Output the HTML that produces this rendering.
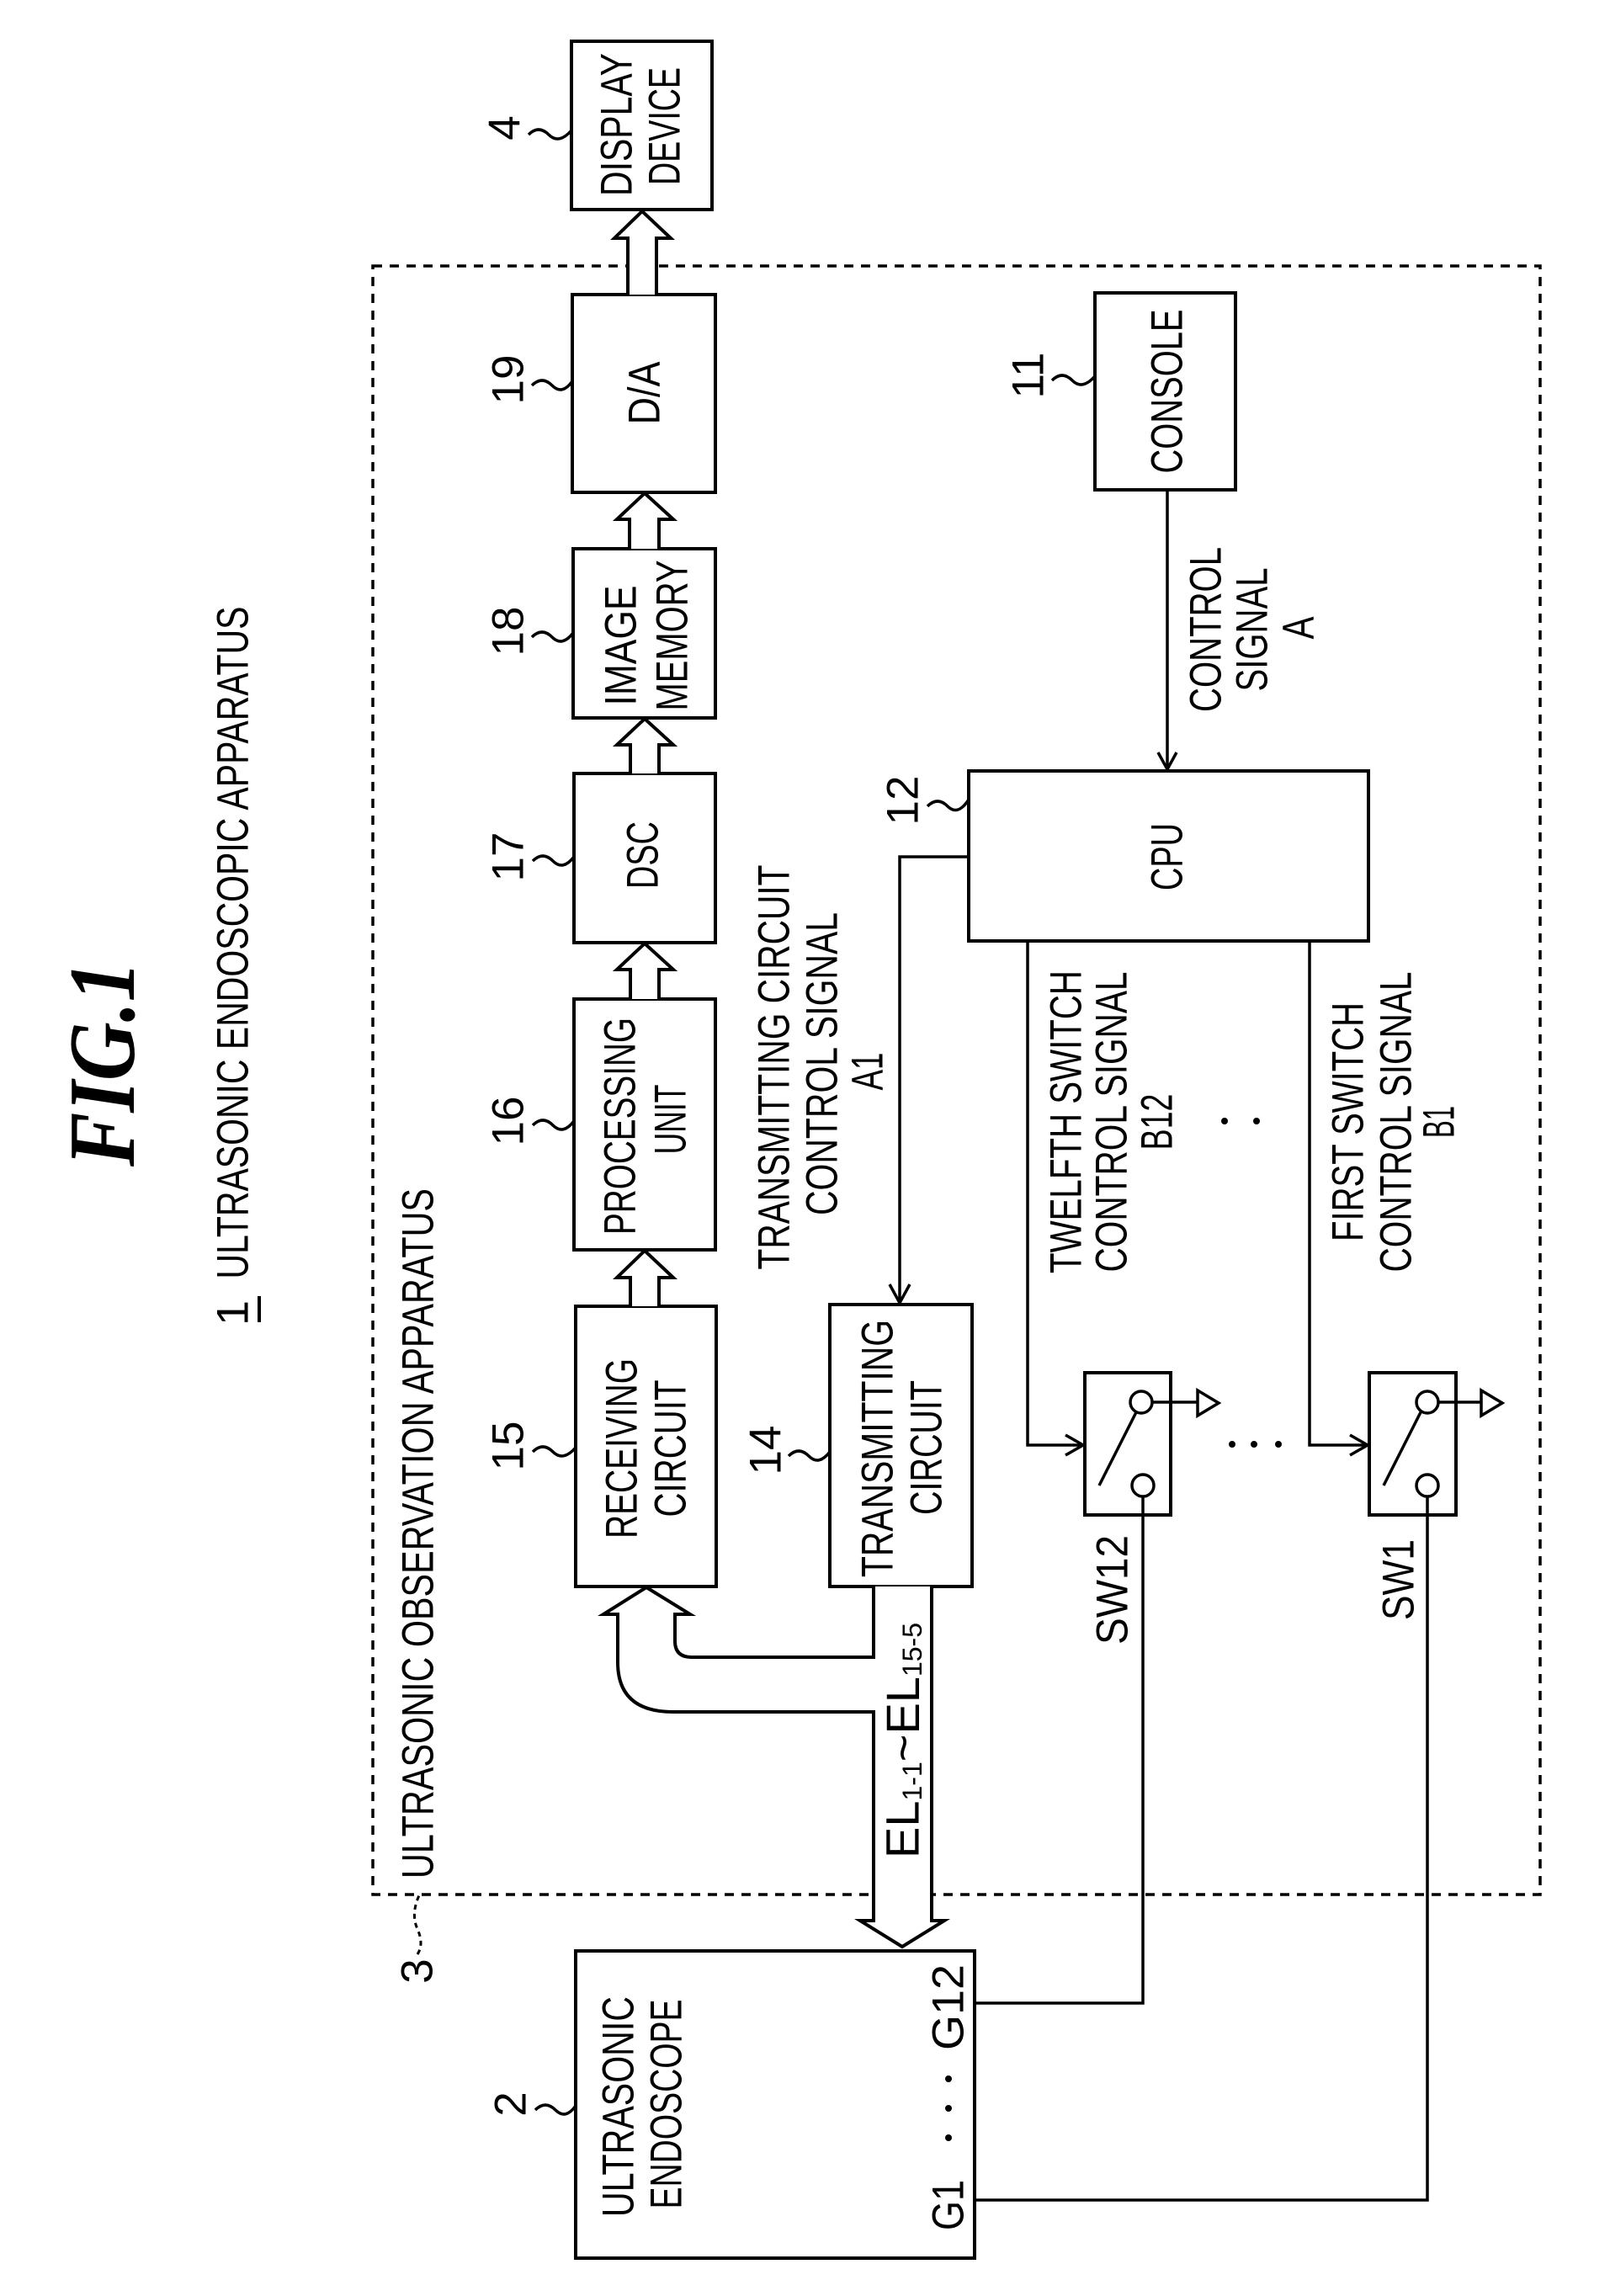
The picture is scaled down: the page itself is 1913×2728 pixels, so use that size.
<!DOCTYPE html>
<html><head><meta charset="utf-8"><style>
html,body{margin:0;padding:0;background:#fff;}
svg{display:block;}
text{font-family:"Liberation Sans",sans-serif;fill:#000;}
</style></head><body>
<svg xmlns="http://www.w3.org/2000/svg" width="1913" height="2728" viewBox="0 0 1913 2728">
<rect width="1913" height="2728" fill="#fff"/>
<g fill="none" stroke="#000" stroke-width="4">
<rect x="443" y="316" width="1387" height="1935" stroke-dasharray="11 9" stroke-width="3.5"/>
<rect x="679" y="49" width="167" height="200" fill="#fff"/>
<rect x="680" y="350" width="170" height="235" fill="#fff"/>
<rect x="681" y="652" width="169" height="201" fill="#fff"/>
<rect x="682" y="919" width="168" height="201" fill="#fff"/>
<rect x="682" y="1187" width="168" height="298" fill="#fff"/>
<rect x="684" y="1552" width="167" height="333" fill="#fff"/>
<rect x="986" y="1550" width="169" height="335" fill="#fff"/>
<rect x="1301" y="348" width="167" height="234" fill="#fff"/>
<rect x="1151" y="916" width="475" height="202" fill="#fff"/>
<rect x="1289" y="1631" width="102" height="169" fill="#fff"/>
<rect x="1627" y="1631" width="103" height="169" fill="#fff"/>
<rect x="684" y="2318" width="474" height="365" fill="#fff"/>
<path d="M746 350 V283 H730 L763 251 L797 283 H780 V350" fill="#fff"/>
<path d="M748 652 V617 H733 L766 586 L800 617 H783 V652" fill="#fff"/>
<path d="M749 919 V885 H733 L766 854 L800 885 H783 V919" fill="#fff"/>
<path d="M749 1187 V1152 H733 L766 1121 L800 1152 H783 V1187" fill="#fff"/>
<path d="M749 1552 V1518 H733 L766 1486 L800 1518 H783 V1552" fill="#fff"/>
<path d="M1038 1885 V1969 H822 Q802 1969 802 1950 V1918 H820 L768 1886 L717 1918 H734 V1975 Q734 2034 800 2034 H1038 V2282 H1022 L1072 2313 L1122 2282 H1107 V1885" fill="#fff"/>
</g>
<g fill="none" stroke="#000" stroke-width="3.5">
<path d="M1387 582 V914"/><path d="M1376 894 L1387 914 L1398 894"/>
<path d="M1151 1018 H1069 V1548"/><path d="M1057 1526 L1069 1548 L1081 1526"/>
<path d="M1221 1118 V1717 H1287"/><path d="M1266 1705 L1287 1717 L1266 1729"/>
<path d="M1556 1118 V1717 H1625"/><path d="M1604 1705 L1625 1717 L1604 1729"/>
<circle cx="1356" cy="1666" r="13"/><circle cx="1358" cy="1765" r="13"/>
<path d="M1306 1765 L1350 1678"/><path d="M1369 1666 H1423"/><path d="M1423 1652 L1448 1667 L1423 1682 Z"/>
<path d="M1358 1778 V2380 H1158"/>
<circle cx="1696" cy="1666" r="13"/><circle cx="1696" cy="1765" r="13"/>
<path d="M1644 1765 L1688 1678"/><path d="M1709 1666 H1760"/><path d="M1760 1652 L1785 1667 L1760 1682 Z"/>
<path d="M1696 1778 V2614 H1158"/>
<path d="M628 160 q12 -12 24 0 t27 -5"/>
<path d="M632 458 q12 -12 24 0 t24 -5"/>
<path d="M632 757 q12 -12 24 0 t25 -5"/>
<path d="M633 1023 q12 -12 24 0 t25 -5"/>
<path d="M633 1337 q12 -12 24 0 t25 -5"/>
<path d="M633 1725 q12 -12 24 0 t27 -5"/>
<path d="M937 1730 q12 -12 24 0 t25 -5"/>
<path d="M1250 452 q12 -12 24 0 t27 -5"/>
<path d="M1102 958 q12 -12 24 0 t25 -8"/>
<path d="M636 2507 q12 -12 24 0 t24 -5"/>
<path d="M496 2322 q8 -12 0 -30 t2 -40" stroke-dasharray="6 5" stroke-width="3"/>
<path d="M308 1540 V1571" stroke-width="4"/>
</g>
<g fill="#000">
<circle cx="1464" cy="1716" r="4"/><circle cx="1490" cy="1716" r="4"/><circle cx="1519" cy="1716" r="4"/>
<circle cx="1455" cy="1332" r="4"/><circle cx="1493" cy="1332" r="4"/>
<circle cx="1127" cy="2470" r="4"/><circle cx="1127" cy="2505" r="4"/><circle cx="1127" cy="2540" r="4"/>
</g>
<g font-size="53" text-anchor="middle" dominant-baseline="central">
<text transform="translate(122,1264) rotate(-90)" style="font-family:'Liberation Serif',serif;font-weight:bold;font-style:italic;font-size:112px" textLength="244" lengthAdjust="spacingAndGlyphs">FIG.1</text>
<text transform="translate(277,1560) rotate(-90)" textLength="30" lengthAdjust="spacingAndGlyphs">1</text>
<text transform="translate(277,1120) rotate(-90)" textLength="799" lengthAdjust="spacingAndGlyphs">ULTRASONIC ENDOSCOPIC APPARATUS</text>
<text transform="translate(497,1822) rotate(-90)" textLength="820" lengthAdjust="spacingAndGlyphs">ULTRASONIC OBSERVATION APPARATUS</text>
<text transform="translate(733,148) rotate(-90)" textLength="170" lengthAdjust="spacingAndGlyphs">DISPLAY</text>
<text transform="translate(790,150) rotate(-90)" textLength="140" lengthAdjust="spacingAndGlyphs">DEVICE</text>
<text transform="translate(766,467) rotate(-90)" textLength="75" lengthAdjust="spacingAndGlyphs">D/A</text>
<text transform="translate(738,767) rotate(-90)" textLength="143" lengthAdjust="spacingAndGlyphs">IMAGE</text>
<text transform="translate(799,755) rotate(-90)" textLength="179" lengthAdjust="spacingAndGlyphs">MEMORY</text>
<text transform="translate(764,1016) rotate(-90)" textLength="80" lengthAdjust="spacingAndGlyphs">DSC</text>
<text transform="translate(737,1338) rotate(-90)" textLength="258" lengthAdjust="spacingAndGlyphs">PROCESSING</text>
<text transform="translate(797,1330) rotate(-90)" textLength="83" lengthAdjust="spacingAndGlyphs">UNIT</text>
<text transform="translate(739,1721) rotate(-90)" textLength="214" lengthAdjust="spacingAndGlyphs">RECEIVING</text>
<text transform="translate(797,1721) rotate(-90)" textLength="163" lengthAdjust="spacingAndGlyphs">CIRCUIT</text>
<text transform="translate(1043,1721) rotate(-90)" textLength="306" lengthAdjust="spacingAndGlyphs">TRANSMITTING</text>
<text transform="translate(1101,1720) rotate(-90)" textLength="160" lengthAdjust="spacingAndGlyphs">CIRCUIT</text>
<text transform="translate(1387,465) rotate(-90)" textLength="195" lengthAdjust="spacingAndGlyphs">CONSOLE</text>
<text transform="translate(1387,1018) rotate(-90)" textLength="80" lengthAdjust="spacingAndGlyphs">CPU</text>
<text transform="translate(1433,748) rotate(-90)" textLength="196" lengthAdjust="spacingAndGlyphs">CONTROL</text>
<text transform="translate(1488,748) rotate(-90)" textLength="147" lengthAdjust="spacingAndGlyphs">SIGNAL</text>
<text transform="translate(1543,746) rotate(-90)" textLength="27" lengthAdjust="spacingAndGlyphs">A</text>
<text transform="translate(920,1268) rotate(-90)" textLength="481" lengthAdjust="spacingAndGlyphs">TRANSMITTING CIRCUIT</text>
<text transform="translate(977,1264) rotate(-90)" textLength="360" lengthAdjust="spacingAndGlyphs">CONTROL SIGNAL</text>
<text transform="translate(1031,1273) rotate(-90)" textLength="45" lengthAdjust="spacingAndGlyphs">A1</text>
<text transform="translate(1267,1333) rotate(-90)" textLength="360" lengthAdjust="spacingAndGlyphs">TWELFTH SWITCH</text>
<text transform="translate(1321,1333) rotate(-90)" textLength="357" lengthAdjust="spacingAndGlyphs">CONTROL SIGNAL</text>
<text transform="translate(1375,1333) rotate(-90)" textLength="67" lengthAdjust="spacingAndGlyphs">B12</text>
<text transform="translate(1602,1333) rotate(-90)" textLength="284" lengthAdjust="spacingAndGlyphs">FIRST SWITCH</text>
<text transform="translate(1659,1333) rotate(-90)" textLength="357" lengthAdjust="spacingAndGlyphs">CONTROL SIGNAL</text>
<text transform="translate(1710,1333) rotate(-90)" textLength="38" lengthAdjust="spacingAndGlyphs">B1</text>
<text transform="translate(1322,1889) rotate(-90)" textLength="130" lengthAdjust="spacingAndGlyphs">SW12</text>
<text transform="translate(1662,1877) rotate(-90)" textLength="96" lengthAdjust="spacingAndGlyphs">SW1</text>
<text transform="translate(735,2503) rotate(-90)" textLength="262" lengthAdjust="spacingAndGlyphs">ULTRASONIC</text>
<text transform="translate(792,2500) rotate(-90)" textLength="249" lengthAdjust="spacingAndGlyphs">ENDOSCOPE</text>
<text transform="translate(1127,2385) rotate(-90)" textLength="102" lengthAdjust="spacingAndGlyphs">G12</text>
<text transform="translate(1127,2620) rotate(-90)" textLength="60" lengthAdjust="spacingAndGlyphs">G1</text>
<text transform="translate(1072,2068) rotate(-90)" font-size="56">EL<tspan font-size="32" dy="12">1-1</tspan><tspan dy="-12">~EL</tspan><tspan font-size="32" dy="12">15-5</tspan></text>
<text transform="translate(600,152) rotate(-90)">4</text>
<text transform="translate(604,451) rotate(-90)">19</text>
<text transform="translate(604,750) rotate(-90)">18</text>
<text transform="translate(604,1018) rotate(-90)">17</text>
<text transform="translate(604,1332) rotate(-90)">16</text>
<text transform="translate(604,1718) rotate(-90)">15</text>
<text transform="translate(910,1723) rotate(-90)">14</text>
<text transform="translate(1222,446) rotate(-90)">11</text>
<text transform="translate(1073,951) rotate(-90)">12</text>
<text transform="translate(607,2500) rotate(-90)">2</text>
<text transform="translate(496,2342) rotate(-90)">3</text>
</g>
</svg>
</body></html>
